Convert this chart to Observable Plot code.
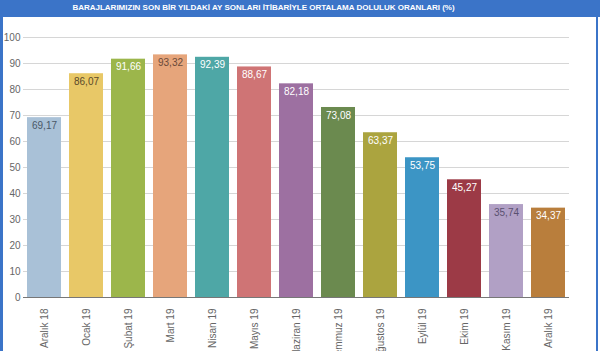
<!DOCTYPE html>
<html>
<head>
<meta charset="utf-8">
<script src="https://cdn.jsdelivr.net/npm/d3@7"></script>
<script src="https://cdn.jsdelivr.net/npm/@observablehq/plot@0.6"></script>
<style>
  html, body { margin: 0; padding: 0; background: #fff; }
  #wrap { position: relative; width: 600px; height: 351px; overflow: hidden; font-family: "Liberation Sans", Arial, sans-serif; }
  #title { position: absolute; left: 0; top: 0; width: 600px; height: 17px; background: #3b74c8; }
  #title span { position: absolute; left: 0; width: 527px; top: 3px; text-align: center; color: #fff; font-weight: bold; font-size: 8px; white-space: nowrap; }
  #lb { position: absolute; left: 0; top: 0; width: 3px; height: 351px; background: #3b74c8; }
  #rb { position: absolute; left: 596px; top: 0; width: 2px; height: 351px; background: #3b74c8; }
  #chart { position: absolute; left: 0; top: 17px; }
</style>
</head>
<body>
<div id="wrap">
  <div id="chart"></div>
  <div id="title"><span>BARAJLARIMIZIN SON BİR YILDAKİ AY SONLARI İTİBARİYLE ORTALAMA DOLULUK ORANLARI (%)</span></div>
  <div id="lb"></div>
  <div id="rb"></div>
</div>
<script>
const months = ["Aralık 18", "Ocak 19", "Şubat 19", "Mart 19", "Nisan 19", "Mayıs 19", "Haziran 19", "Temmuz 19", "Ağustos 19", "Eylül 19", "Ekim 19", "Kasım 19", "Aralık 19"];
const values = [69.17, 86.07, 91.66, 93.32, 92.39, 88.67, 82.18, 73.08, 63.37, 53.75, 45.27, 35.74, 34.37];
const barColors = ["#a9c1d7", "#e8c867", "#9cb64b", "#e6a57b", "#4ea7a6", "#cf7475", "#9d70a1", "#6b8a4f", "#aba43f", "#3c95c5", "#9c3a46", "#b1a0c5", "#b97e3c"];
const labelColors = ["#4a5868", "#5a4a2a", "#ffffff", "#6a4a3a", "#ffffff", "#ffffff", "#ffffff", "#ffffff", "#ffffff", "#ffffff", "#ffffff", "#5a5070", "#ffffff"];
const yTicks = [0, 10, 20, 30, 40, 50, 60, 70, 80, 90, 100];

const data = months.map((m, i) => ({month: m, value: values[i], color: barColors[i], label: labelColors[i]}));
const fmt = v => v.toFixed(2).replace(".", ",");

const chart = Plot.plot({
  width: 600,
  height: 334,
  marginTop: 20,
  marginBottom: 54,
  marginLeft: 23,
  marginRight: 31,
  style: {fontFamily: "Liberation Sans, Arial, sans-serif", background: "transparent"},
  x: {domain: months, paddingInner: 0.19, paddingOuter: 0.095, label: null},
  y: {domain: [0, 100], label: null},
  color: {type: "identity"},
  marks: [
    Plot.gridY(yTicks, {stroke: "#d6d6d6", strokeOpacity: 1}),
    Plot.barY(data, {x: "month", y: "value", fill: "color"}),
    Plot.ruleY([0], {stroke: "#777"}),
    Plot.axisY(yTicks, {tickSize: 0, tickPadding: 3, fontSize: 10, color: "#666", label: null}),
    Plot.axisX({tickSize: 0, tickRotate: -90, tickPadding: 11, fontSize: 10, color: "#666", label: null}),
    Plot.text(data, {x: "month", y: "value", text: d => fmt(d.value), fill: "label", dy: 8, fontSize: 10, lineAnchor: "middle"})
  ]
});
document.getElementById("chart").appendChild(chart);
</script>
</body>
</html>
